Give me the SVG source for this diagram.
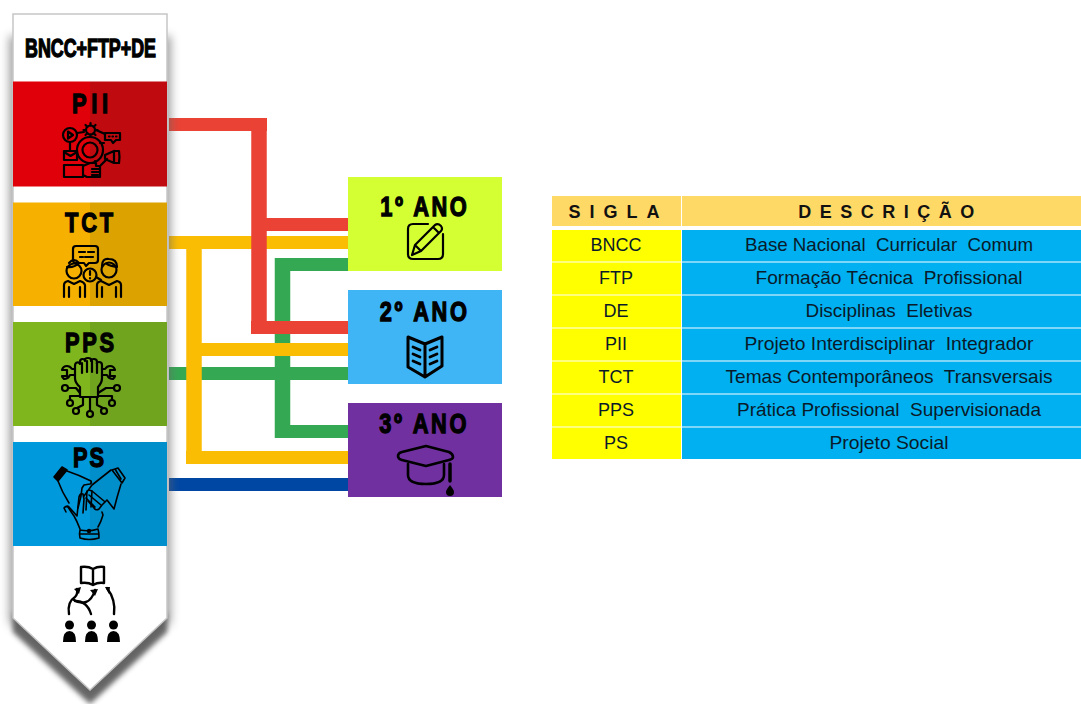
<svg xmlns="http://www.w3.org/2000/svg" width="1081" height="704" viewBox="0 0 1081 704">
<defs>
<filter id="sh" x="-30%" y="-10%" width="160%" height="120%"><feGaussianBlur stdDeviation="5"/></filter>
<filter id="sh2" x="-20%" y="-30%" width="140%" height="160%"><feGaussianBlur stdDeviation="2.500"/></filter>
<style>
.imp{font-family:"Liberation Sans",Arial,sans-serif;font-weight:700;fill:#000;stroke:#000;stroke-width:1.300;text-anchor:middle;font-size:28px}
.ic{fill:none;stroke:#000;stroke-width:2.200;stroke-linecap:round;stroke-linejoin:round}
.icb{fill:#000;stroke:none}
.cn{fill:none;stroke-width:13}
.cv{fill:none;stroke-width:15.500}
.th{font-family:"Liberation Sans",Arial,sans-serif;font-weight:700;font-size:18px;text-anchor:middle;fill:#111}
.td{font-family:"Liberation Sans",Arial,sans-serif;font-size:18.500px;text-anchor:middle;fill:#0a1a2a}
.tdy{font-family:"Liberation Sans",Arial,sans-serif;font-size:18px;text-anchor:middle;fill:#0a1a2a}
.y{fill:#ffff00}.b{fill:#00b0f0}.h{fill:#ffd966}
</style>
</defs>
<rect width="1081" height="704" fill="#fff"/>

<g id="connectors">
<path class="cn" stroke="#0047a3" d="M169 484.500H348"/>
<path class="cn" stroke="#34a853" d="M169 373.500H348M275 264.500H348M275 431.500H348"/>
<path class="cv" stroke="#34a853" d="M282.500 258V438"/>
<path class="cn" stroke="#fbbc04" d="M169 242.500H348M194 349.500H348M186 457.500H348"/>
<path class="cv" stroke="#fbbc04" d="M194 236V464"/>
<path class="cn" stroke="#ea4335" d="M169 124.500H267M251 327.500H348M259 224.500H348"/>
<path class="cv" stroke="#ea4335" d="M259 118V334"/>
</g>

<g id="ribbon">
<path d="M9 36H171V622L90 698L9 622Z" fill="#666" filter="url(#sh)" opacity=".6"/>
<path d="M13 612L90 684L167 612V632L90 704L13 632Z" fill="#555" filter="url(#sh2)" opacity=".85"/>
<path d="M13 14H167V618L90 690L13 618Z" fill="#fff" stroke="#c6c6c6" stroke-width="1.500"/>
</g>
<g id="node-bncc"><text class="imp" transform="translate(90.500 57) scale(.715 1)" style="font-size:25px">BNCC+FTP+DE</text></g>

<g id="node-pii">
<rect x="13" y="81.500" width="77" height="105" fill="#e00009"/><rect x="90" y="81.500" width="77" height="105" fill="#bf0a0f"/>
<text class="imp" transform="translate(92.300 113) scale(.78 1)" style="letter-spacing:6px">PII</text>
<g class="ic">
<circle cx="70" cy="135" r="7"/><path d="M68 131.500l5 3.500l-5 3.500z"/>
<circle cx="90.500" cy="130" r="4.500"/><path d="M90.500 123v2.500M90.500 134.500v2.500M83.500 130h2.500M95 130h2.500M85.500 125l2 2M93.500 133l2 2M95.500 125l-2 2M87.500 133l-2 2"/>
<path d="M105 133h15v7h-4l-3 3l-2-3h-6zM109 136.500h.5M112.500 136.500h.5M116 136.500h.5"/>
<circle cx="90" cy="150" r="13"/><circle cx="90" cy="150" r="7.500"/>
<path d="M77 133l7-1M96 130l9 4M70 142v9M104 143l-4 0"/>
<rect x="64" y="151" width="13" height="9"/><path d="M64 152l6.500 4l6.500-4"/>
<path d="M105 155l9-4v12l-9-4zM114 151h5q1 6 0 12h-5M107 159l-6 6"/>
<path d="M64 165h19v12h-19zM83 166l7-3h6v3h4v11h-13l-4-2M92 169h8M92 172h8M92 175h6M95 163v-2"/>
</g>
</g>

<g id="node-tct">
<rect x="13" y="202.500" width="77" height="103.500" fill="#f6b100"/><rect x="90" y="202.500" width="77" height="103.500" fill="#dca200"/>
<text class="imp" transform="translate(90.400 232) scale(.78 1)" style="letter-spacing:3.500px">TCT</text>
<g class="ic">
<path d="M76 246h19q3 0 3 3v11q0 3-3 3h-6l-3 3l-2-3h-8q-3 0-3-3v-11q0-3 3-3z" />
<path d="M79 252h6M88 252h6M80 257h3M85 257h8"/>
<circle cx="74" cy="271" r="7.500"/><path d="M67 267q7 1 12-4M69 263q5-6 10 0"/>
<circle cx="109" cy="270" r="7.500"/><path d="M102 266q0-8 7-7q8 0 8 8q-7-1-10-3"/>
<circle cx="90" cy="275" r="6.500"/><path d="M90 271v4M90 278v.5M96 277l5 3"/>
<path d="M64 297v-12q0-3 4-4l6 3l6-3q4 1 5 4v12M69 287v10M80 287v10"/>
<path d="M97 297v-12q0-3 4-4l8 4l8-4q4 1 4 4v12M102 287v10M116 287v10"/>
</g>
</g>

<g id="node-pps">
<rect x="13" y="322" width="77" height="104" fill="#7fb51d"/><rect x="90" y="322" width="77" height="104" fill="#70a41f"/>
<text class="imp" transform="translate(90.800 352) scale(.78 1)" style="letter-spacing:3.400px">PPS</text>
<g class="ic">
<path d="M75 378q0 5 5 9v10h18v-10q4-4 4-9v-13q0-3-3-3t-2 2v-2q0-3-3-3t-3 2v-1q0-2-3-2t-3 2v1q0-2-2.500-2t-2.500 3v2q-1-2-3-1.500t-2 3.500z"/>
<path d="M82 363v10M87 361v11M92 361v11M97 363v10"/>
<path d="M75 375h-5q-2 4-6 4q-2-2-2-3h5v-6h-5q1-4 5-4q3 0 5 3h3"/>
<path d="M102 375h5q2 4 6 4q2-2 2-3h-5v-6h5q-1-4-5-4q-3 0-5 3h-3"/>
<path d="M68 388h8l4 5M114 388h-8l-8 5M70 400v-4h10M112 400v-4h-14M77 408l6-3v-8M103 408l-6-3v-8M90 411v-14"/>
<circle cx="65" cy="388" r="3"/><circle cx="117" cy="388" r="3"/><circle cx="70" cy="403" r="3"/><circle cx="112" cy="403" r="3"/><circle cx="76" cy="411" r="3"/><circle cx="104" cy="411" r="3"/><circle cx="90" cy="414" r="3"/>
</g>
</g>

<g id="node-ps">
<rect x="13" y="442" width="77" height="104" fill="#0099dc"/><rect x="90" y="442" width="77" height="104" fill="#008fcb"/>
<text class="imp" transform="translate(89.500 466.500) scale(.78 1)" style="letter-spacing:2.500px">PS</text>
<g class="ic" style="stroke-width:1.600">
<path d="M54 477l8-10l5 3l-9 11z" fill="#000"/>
<path d="M67 471q12 4 24 10q1 2-1 3l-6 1l-2 3l-1 8l-3 12M58 481q4 11 11 22"/>
<path d="M112 470l6-2l7 10l-3 5zM115 469l6 10"/>
<path d="M111 470l-19 15l-8 11M121 484q-4 13-7 25l-7-9l-5 5l-3 4q-3 2-5-1l-6-7M92 491l12 10M89 495l12 10M86 498l9 9"/>
<path d="M80 529q-3-8-6-13q-3-4-6-9q-3-1-4 1l2 4M64 508q3-3 5-1l8 9l2-19q1-4 4-3l1 5l-1 14M87 491l-1 19M89 490l3 1l-1 16M102 512l1 3q-2 7-5 12"/>
<path d="M80 530q9 2 18-1q1 3 1 9q-10 3-19 0q-1-4 0-8zM80 534h19"/>
<circle cx="89" cy="531" r="2.200" fill="#000" stroke="none"/>
</g>
</g>

<g id="node-people">
<g class="ic" style="stroke-width:2.400">
<path d="M93 569q-5-3-12-2v16q7-1 12 2q5-3 11-2v-16q-6-1-11 2zM93 569v16"/>
<path d="M69 614q-2-12 6-17q3-3 2-8M74 600q6 4 12 2q6-2 9-12"/>
<path d="M75 601q12 0 16 13M114 614q2-14-7-26"/>
</g>
<path class="icb" d="M74 589l7-2l-2 7zM90 590l8-1l-3 7zM105 587h5l-1 7z"/>
<g class="icb"><circle cx="69.500" cy="625" r="4.500"/><path d="M63 642q0-11 6.500-11t6.500 11z"/>
<circle cx="91.500" cy="625" r="4.500"/><path d="M85 642q0-11 6.500-11t6.500 11z"/>
<circle cx="113.500" cy="625" r="4.500"/><path d="M107 642q0-11 6.500-11t6.500 11z"/></g>
</g>

<g id="node-ano1">
<rect x="348" y="177" width="154" height="94" fill="#d4ff33"/>
<text class="imp" transform="translate(424.700 216) scale(.78 1)" style="letter-spacing:3.200px">1º ANO</text>
<g class="ic">
<path d="M428 224h-15q-5 0-5 5v25q0 5 5 5h25q5 0 5-5v-20"/>
<path d="M412 255l3-10l20-20q3-2 6 1q2 3 0 5l-20 20zM415 245l6 6M433 227l6 6"/>
</g>
</g>

<g id="node-ano2">
<rect x="348" y="290" width="154" height="94" fill="#3fb5f5"/>
<text class="imp" transform="translate(424.700 321) scale(.78 1)" style="letter-spacing:3.400px">2º ANO</text>
<g class="ic" style="stroke-width:2.800">
<path d="M408 337l17 7l17-7v29l-17 11l-17-10zM425 344v33" style="stroke-width:3"/>
<path d="M413 347l7 3M413 354l7 3M413 361l7 3M437 347l-7 3M437 354l-7 3M437 361l-7 3"/>
</g>
</g>

<g id="node-ano3">
<rect x="348" y="403" width="154" height="94" fill="#7030a0"/>
<text class="imp" transform="translate(424.200 433) scale(.78 1)" style="letter-spacing:3.400px">3º ANO</text>
<g class="ic" style="stroke-width:2.600">
<path d="M398 456q0-3 4-4l24-6l23 6q4 2 4 5q0 2-4 3l-23 6l-24-6q-4-1-4-4z"/>
<path d="M408 464v11q0 9 18 9q18 0 18-9v-11"/>
<path d="M450 464v17" style="stroke-width:3.500"/>
</g>
<path class="icb" d="M450 485q4 5 4 7a4 4 0 0 1-8 0q0-2 4-7z"/>
</g>

<g id="table">
<rect class="h" x="552" y="196" width="129" height="30"/><rect class="h" x="682" y="196" width="399" height="30"/>
<text class="th" x="618.500" y="218" style="letter-spacing:9px">SIGLA</text>
<text class="th" x="890.500" y="218" style="letter-spacing:8.500px">DESCRIÇÃO</text>
<g id="r1"><rect class="y" x="552" y="230" width="129" height="31.500"/><rect class="b" x="682" y="230" width="399" height="31.500"/><text class="tdy" x="616" y="251">BNCC</text><text class="td" x="889" y="251" xml:space="preserve" textLength="288" lengthAdjust="spacingAndGlyphs">Base Nacional  Curricular  Comum</text></g>
<g id="r2"><rect class="y" x="552" y="262.500" width="129" height="32"/><rect class="b" x="682" y="262.500" width="399" height="32"/><text class="tdy" x="616" y="284">FTP</text><text class="td" x="889" y="284" xml:space="preserve" textLength="267" lengthAdjust="spacingAndGlyphs">Formação Técnica  Profissional</text></g>
<g id="r3"><rect class="y" x="552" y="295.500" width="129" height="32"/><rect class="b" x="682" y="295.500" width="399" height="32"/><text class="tdy" x="616" y="317">DE</text><text class="td" x="889" y="317" xml:space="preserve" textLength="167" lengthAdjust="spacingAndGlyphs">Disciplinas  Eletivas</text></g>
<g id="r4"><rect class="y" x="552" y="328.500" width="129" height="32"/><rect class="b" x="682" y="328.500" width="399" height="32"/><text class="tdy" x="616" y="350">PII</text><text class="td" x="889" y="350" xml:space="preserve" textLength="289" lengthAdjust="spacingAndGlyphs">Projeto Interdisciplinar  Integrador</text></g>
<g id="r5"><rect class="y" x="552" y="361.500" width="129" height="32"/><rect class="b" x="682" y="361.500" width="399" height="32"/><text class="tdy" x="616" y="383">TCT</text><text class="td" x="889" y="383" xml:space="preserve" textLength="327" lengthAdjust="spacingAndGlyphs">Temas Contemporâneos  Transversais</text></g>
<g id="r6"><rect class="y" x="552" y="394.500" width="129" height="32"/><rect class="b" x="682" y="394.500" width="399" height="32"/><text class="tdy" x="616" y="416">PPS</text><text class="td" x="889" y="416" xml:space="preserve" textLength="304" lengthAdjust="spacingAndGlyphs">Prática Profissional  Supervisionada</text></g>
<g id="r7"><rect class="y" x="552" y="427.500" width="129" height="31.500"/><rect class="b" x="682" y="427.500" width="399" height="31.500"/><text class="tdy" x="616" y="449">PS</text><text class="td" x="889" y="449" xml:space="preserve" textLength="119" lengthAdjust="spacingAndGlyphs">Projeto Social</text></g>
</g>
</svg>
